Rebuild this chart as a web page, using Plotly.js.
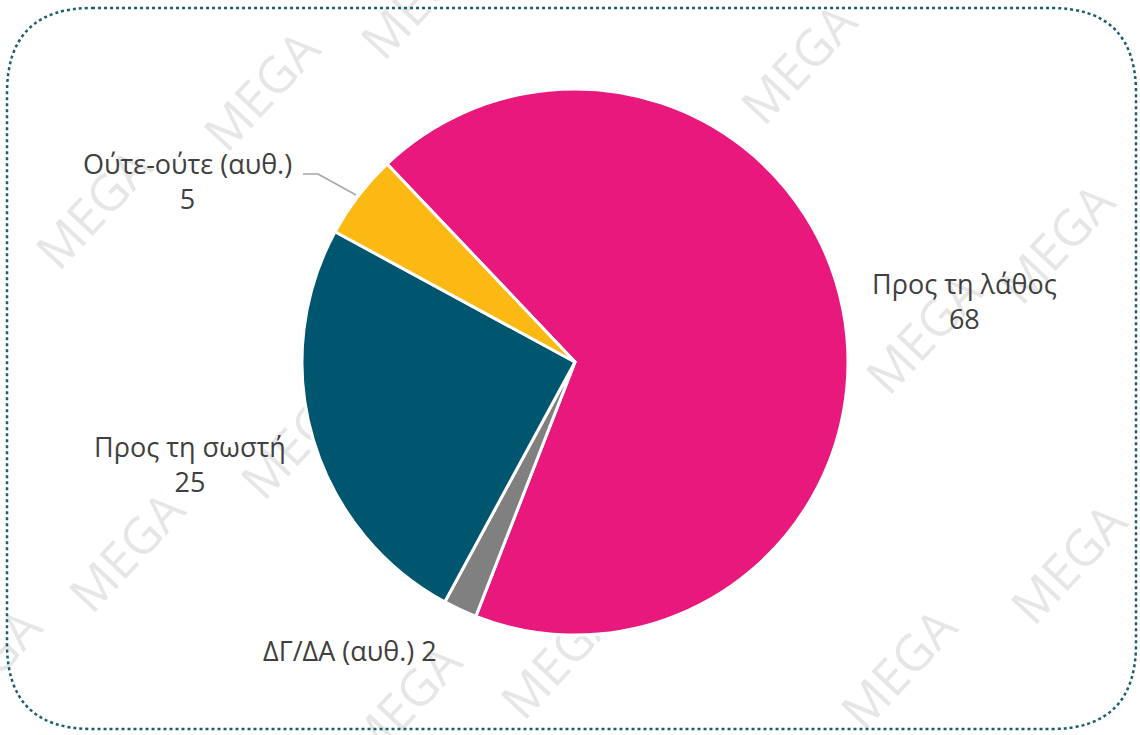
<!DOCTYPE html>
<html>
<head>
<meta charset="utf-8">
<script src="https://cdn.plot.ly/plotly-3.0.1.min.js"></script>
<style>
  html, body { margin: 0; padding: 0; background: #fff; }
  #chart { width: 1140px; height: 735px; }
</style>
</head>
<body>
<div id="chart"></div>
<script>
// data
var labels = ["Προς τη λάθος", "ΔΓ/ΔΑ (αυθ.)", "Προς τη σωστή", "Ούτε-ούτε (αυθ.)"]
var values = [68, 2, 25, 5]
var colors = ["#E8187D", "#808080", "#00566E", "#FDB913"]

// label text: one line or two lines
var labelOneLine = [false, true, false, false]
// label centre, pixels
var labelX = [964, 350, 190, 187]
var labelY = [301, 650, 464, 181]

var W = 1140, H = 735
function px(x) { return x / W }
function py(y) { return 1 - y / H }

var annotations = []
for (let i = 0; i < labels.length; i++) {
    let txt = labelOneLine[i] ? labels[i] + " " + values[i] : labels[i] + "<br>" + values[i]
    annotations.push({
        x: px(labelX[i]), y: py(labelY[i]), xref: "paper", yref: "paper",
        text: txt, showarrow: false, xanchor: "center", yanchor: "middle",
        font: {family: "Open Sans, sans-serif", size: 27, color: "#404040"}
    })
}

// watermark, drawn under the pie
var wmX = [263, 420, 800, 1058, 925, 95, 128, 300, -15, 405, 900, 1070, 560, 640]
var wmY = [92, 0, 65, 245, 335, 210, 553, 440, 670, 705, 670, 565, 660, 330]
var shapes = []
for (let i = 0; i < wmX.length; i++) {
    shapes.push({
        type: "rect", xref: "x", yref: "y", layer: "below",
        x0: wmX[i] - 80, x1: wmX[i] + 80, y0: wmY[i] - 30, y1: wmY[i] + 30,
        line: {width: 0}, fillcolor: "rgba(0,0,0,0)",
        label: {text: "MEGA", textangle: -47, textposition: "middle center",
                font: {family: "Open Sans, sans-serif", size: 50, color: "#E6E6E6"}}
    })
}

var data = [{
    type: "pie",
    labels: labels,
    values: values,
    sort: false,
    direction: "clockwise",
    rotation: -43.5,
    marker: {colors: colors, line: {color: "#ffffff", width: 3}},
    textinfo: "none",
    hoverinfo: "label+value",
    showlegend: false,
    domain: {x: [px(302), px(848)], y: [py(635), py(89)]}
}]

var r = 85, x0 = 7, x1 = 1136, y0 = 8, y1 = 729
var boxPath = "M " + (x0 + r) + " " + y0 +
    " L " + (x1 - r) + " " + y0 +
    " Q " + x1 + " " + y0 + " " + x1 + " " + (y0 + r) +
    " L " + x1 + " " + (y1 - r) +
    " Q " + x1 + " " + y1 + " " + (x1 - r) + " " + y1 +
    " L " + (x0 + r) + " " + y1 +
    " Q " + x0 + " " + y1 + " " + x0 + " " + (y1 - r) +
    " L " + x0 + " " + (y0 + r) +
    " Q " + x0 + " " + y0 + " " + (x0 + r) + " " + y0 + " Z"

shapes.push(
    {type: "path", xref: "x", yref: "y", path: boxPath,
     line: {color: "#1B5E6E", width: 2.5, dash: "dot"}},
    {type: "line", xref: "x", yref: "y", x0: 303, y0: 174, x1: 318, y1: 174,
     line: {color: "#A6A6A6", width: 1.5}},
    {type: "line", xref: "x", yref: "y", x0: 318, y0: 174, x1: 356, y1: 195,
     line: {color: "#A6A6A6", width: 1.5}}
)

var layout = {
    width: W, height: H,
    margin: {l: 0, r: 0, t: 0, b: 0},
    paper_bgcolor: "#ffffff",
    plot_bgcolor: "rgba(0,0,0,0)",
    xaxis: {range: [0, W], visible: false, fixedrange: true},
    yaxis: {range: [H, 0], visible: false, fixedrange: true},
    annotations: annotations,
    shapes: shapes
}

Plotly.newPlot("chart", data, layout, {displayModeBar: false, staticPlot: true})
</script>
</body>
</html>
